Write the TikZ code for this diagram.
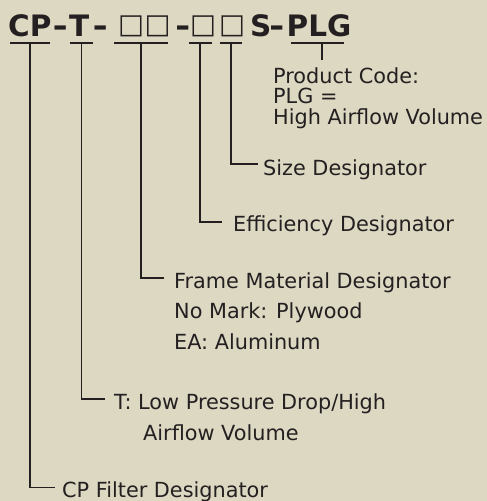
\documentclass[tikz,border=0pt]{standalone}
\usepackage{fontspec}
\usepackage{graphicx}
\setmainfont{DejaVu Sans}
\definecolor{bg}{RGB}{220,216,194}
\definecolor{ink}{RGB}{36,32,33}
\newcommand{\widedash}{\scalebox{1.25}[1]{-}}
\begin{document}
\begin{tikzpicture}[x=1pt,y=-1pt,
  lbl/.style={anchor=base west,inner sep=0pt,text=ink,font=\fontsize{20.8}{24}\selectfont},
  ttl/.style={anchor=base west,inner sep=0pt,text=ink,font=\fontsize{29.5}{34}\selectfont\bfseries},
  sq/.style={anchor=center,inner sep=0pt,text=ink,font=\fontsize{27.5}{30}\selectfont},
  uline/.style={draw=ink,line width=1.3pt},
  conn/.style={draw=ink,line width=1.2pt}]
\fill[bg] (0,0) rectangle (487,501);
\useasboundingbox (0,0) rectangle (487,501);
% title
\node[ttl] (tcp) at (8,36) {CP};
\node[ttl] (td1) at (52.5,36) {\widedash};
\node[ttl] (tt) at (69,36) {T};
\node[ttl] (td2) at (92.5,36) {\widedash};
\node[sq] (b1) at (131,26) {□};
\node[sq] (b2) at (157.5,26) {□};
\node[ttl] (td3) at (175,36) {\widedash};
\node[sq] (b3) at (203,26) {□};
\node[sq] (b4) at (232,26) {□};
\node[ttl] (ts) at (250,36) {S};
\node[ttl] (td4) at (269,36) {\widedash};
\node[ttl] (tplg) at (286.5,36) {PLG};
% underline coordinates
\coordinate (u1a) at (10,43);  \coordinate (u1b) at (50,43);  \coordinate (u1m) at (30,43);
\coordinate (u2a) at (70,43);  \coordinate (u2b) at (93,43);  \coordinate (u2m) at (81.5,43);
\coordinate (u3a) at (114,43); \coordinate (u3b) at (168,43); \coordinate (u3m) at (141,43);
\coordinate (u4a) at (189,43); \coordinate (u4b) at (212,43); \coordinate (u4m) at (200,43);
\coordinate (u5a) at (220,43); \coordinate (u5b) at (242,43); \coordinate (u5m) at (231,43);
\coordinate (u6a) at (291,43); \coordinate (u6b) at (344,43); \coordinate (u6m) at (322,43);
\foreach \i in {1,...,6} {\draw[uline] (u\i a) -- (u\i b);}
% labels
\node[lbl] (pc1) at (273,83) {Product Code:};
\node[lbl] (pc2) at (273,103.5) {PLG =};
\node[lbl] (pc3) at (273,124) {High Airflow Volume};
\node[lbl] (sz) at (263,175) {Size Designator};
\node[lbl] (ef) at (233,231.5) {Efficiency Designator};
\node[lbl] (fr1) at (174,288) {Frame Material Designator};
\node[lbl] (fr2) at (174,318.5) {No Mark: Plywood};
\node[lbl] (fr3) at (174,349) {EA: Aluminum};
\node[lbl] (tl1) at (114,409) {T: Low Pressure Drop/High};
\node[lbl] (tl2) at (143,440) {Airflow Volume};
\node[lbl] (cp) at (62,497.5) {CP Filter Designator};
% elbow ends
\coordinate (e1) at (55,487.5);
\coordinate (e2) at (105,399);
\coordinate (e3) at (164,278);
\coordinate (e4) at (222,222);
\coordinate (e5) at (258,164);
\coordinate (e6) at (322,60);
% connectors
\draw[conn] (u1m) |- (e1);
\draw[conn] (u2m) |- (e2);
\draw[conn] (u3m) |- (e3);
\draw[conn] (u4m) |- (e4);
\draw[conn] (u5m) |- (e5);
\draw[conn] (u6m) -- (e6);
\end{tikzpicture}
\end{document}
